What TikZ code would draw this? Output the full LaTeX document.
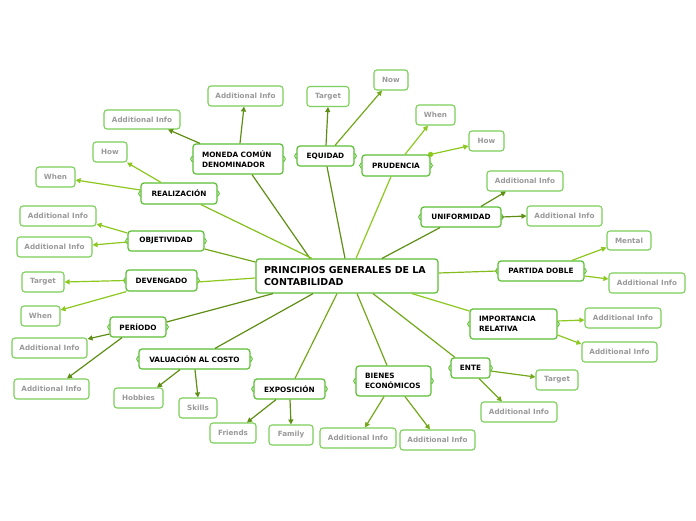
\documentclass[tikz,border=0pt]{standalone}
\usepackage{fontspec}
\setmainfont{DejaVu Sans}
\usetikzlibrary{arrows.meta}
\definecolor{dk}{HTML}{5E8E14}
\definecolor{md}{HTML}{72A81A}
\definecolor{lt}{HTML}{8CC81E}
\definecolor{bd}{HTML}{5CC035}
\definecolor{lbd}{HTML}{7CCF58}
\definecolor{gtx}{HTML}{9A9A9A}
\begin{document}
\begin{tikzpicture}[x=1pt,y=-1pt,
 mainbox/.style={draw=bd, fill=white, rounded corners=3pt, line width=1.2pt, inner sep=0pt, font=\fontsize{7.3}{10}\selectfont\bfseries, align=center},
 twoline/.style={align=left, inner xsep=9pt, text width=#1},
 leaf/.style={draw=lbd, fill=white, rounded corners=3pt, line width=1.1pt, inner sep=0pt, text=gtx, font=\fontsize{7.2}{9}\selectfont\bfseries, minimum height=20pt},
 con/.style={line width=1.2pt},
 arr/.style={line width=1.2pt, -{Triangle[length=5pt,width=5pt]}},
 brc/.style={line width=0.9pt, draw=bd}
]
\useasboundingbox[fill=white] (0,0) rectangle (696,520);

% center
\node[mainbox, font=\fontsize{9.5}{12}\selectfont\bfseries, twoline=166pt, inner xsep=8pt, minimum width=182pt, minimum height=34pt] (c) at (347,276) {PRINCIPIOS GENERALES DE LA\\CONTABILIDAD};

% main nodes
\node[mainbox, twoline=72pt, minimum width=90pt, minimum height=30pt] (mon) at (238,159) {MONEDA COMÚN\\DENOMINADOR};
\node[mainbox, minimum width=57pt, minimum height=20pt] (equ) at (325.5,156) {EQUIDAD};
\node[mainbox, minimum width=68pt, minimum height=21pt] (pru) at (396,165.5) {PRUDENCIA};
\node[mainbox, minimum width=76pt, minimum height=21pt] (rea) at (179,193.5) {REALIZACIÓN};
\node[mainbox, minimum width=80pt, minimum height=20pt] (uni) at (461,217) {UNIFORMIDAD};
\node[mainbox, minimum width=76pt, minimum height=20pt] (obj) at (166,241) {OBJETIVIDAD};
\node[mainbox, minimum width=71pt, minimum height=21pt] (dev) at (161.5,280.5) {DEVENGADO};
\node[mainbox, minimum width=86pt, minimum height=20pt] (par) at (541,271) {PARTIDA DOBLE};
\node[mainbox, twoline=69pt, minimum width=87pt, minimum height=30pt] (imp) at (513.5,324) {IMPORTANCIA\\RELATIVA};
\node[mainbox, minimum width=56pt, minimum height=20pt] (per) at (138,327) {PERÍODO};
\node[mainbox, minimum width=111pt, minimum height=20pt] (val) at (194.5,359) {VALUACIÓN AL COSTO};
\node[mainbox, minimum width=71pt, minimum height=20pt] (exp) at (289.5,389) {EXPOSICIÓN};
\node[mainbox, twoline=57pt, minimum width=75pt, minimum height=30pt] (bie) at (393.5,381) {BIENES\\ECONÓMICOS};
\node[mainbox, minimum width=39pt, minimum height=20pt] (ente) at (470.5,368) {ENTE};

% braces
\foreach \n in {mon,equ,pru,rea,uni,obj,dev,par,imp,per,val,exp,bie,ente}{
  \draw[brc] ([yshift=3pt]\n.west) -- ++(-1.8pt,-3pt) -- ++(1.8pt,-3pt);
  \draw[brc] ([yshift=3pt]\n.east) -- ++(1.8pt,-3pt) -- ++(-1.8pt,-3pt);
}

% leaves
\node[leaf, minimum width=75pt] (l1) at (245.5,96) {Additional Info};
\node[leaf, minimum width=76pt, minimum height=19pt] (l2) at (142,119.5) {Additional Info};
\node[leaf, minimum width=42pt] (l3) at (328,96.5) {Target};
\node[leaf, minimum width=34pt] (l4) at (391,80) {Now};
\node[leaf, minimum width=39pt] (l5) at (435.5,115) {When};
\node[leaf, minimum width=35pt] (l6) at (486.5,141) {How};
\node[leaf, minimum width=34pt] (l7) at (110,152) {How};
\node[leaf, minimum width=39pt] (l8) at (55.5,177) {When};
\node[leaf, minimum width=76pt] (l9) at (525,181) {Additional Info};
\node[leaf, minimum width=75pt] (l10) at (564.5,216) {Additional Info};
\node[leaf, minimum width=76pt] (l11) at (58,216) {Additional Info};
\node[leaf, minimum width=75pt] (l12) at (54.5,247) {Additional Info};
\node[leaf, minimum width=42pt] (l13) at (43,282) {Target};
\node[leaf, minimum width=39pt] (l14) at (40.5,316) {When};
\node[leaf, minimum width=44pt, minimum height=19pt] (l15) at (629,240.5) {Mental};
\node[leaf, minimum width=76pt] (l16) at (647,283) {Additional Info};
\node[leaf, minimum width=75pt] (l17) at (49.5,348) {Additional Info};
\node[leaf, minimum width=75pt] (l18) at (51.5,389) {Additional Info};
\node[leaf, minimum width=76pt] (l19) at (623,318) {Additional Info};
\node[leaf, minimum width=75pt] (l20) at (619.5,352) {Additional Info};
\node[leaf, minimum width=42pt] (l21) at (557,380) {Target};
\node[leaf, minimum width=76pt] (l22) at (519,412) {Additional Info};
\node[leaf, minimum width=49pt] (l23) at (138.5,398) {Hobbies};
\node[leaf, minimum width=38pt] (l24) at (198,408) {Skills};
\node[leaf, minimum width=46pt] (l25) at (233,433) {Friends};
\node[leaf, minimum width=44pt] (l26) at (291,435) {Family};
\node[leaf, minimum width=76pt] (l27) at (358,438) {Additional Info};
\node[leaf, minimum width=75pt] (l28) at (437.5,440) {Additional Info};

% center to main
\draw[con, dk] ([xshift=-37pt]c.north) -- ([xshift=14pt]mon.south);
\draw[con, dk] ([xshift=-2pt]c.north) -- ([xshift=1.5pt]equ.south);
\draw[con, lt] ([xshift=9pt]c.north) -- ([xshift=-5pt]pru.south);
\draw[con, lt!85!dk] ([xshift=-35pt]c.north) -- ([xshift=22pt]rea.south);
\draw[con, dk] ([xshift=35pt]c.north) -- ([xshift=-21pt]uni.south);
\draw[con, md] ([yshift=14pt]c.west) -- ([yshift=-8pt]obj.east);
\draw[con, lt] ([yshift=-2pt]c.west) -- ([yshift=-1.5pt]dev.east);
\draw[con, lt!80!dk] ([yshift=3pt]c.east) -- (par.west);
\draw[con, lt] ([xshift=65pt]c.south) -- ([yshift=13pt]imp.west);
\draw[con, md] ([xshift=26pt]c.south) -- ([xshift=-15.5pt]ente.north);
\draw[con, md] ([xshift=10pt]c.south) -- ([xshift=-6.5pt]bie.north);
\draw[con, md] ([xshift=-10pt]c.south) -- ([xshift=5.5pt]exp.north);
\draw[con, dk] ([xshift=-34pt]c.south) -- ([xshift=20.5pt]val.north);
\draw[con, dk] ([xshift=-74pt]c.south) -- ([yshift=5pt]per.east);

% main to leaves
\draw[arr, dk] ([xshift=2pt]mon.north) -- ([xshift=-1.5pt]l1.south);
\draw[arr, dk] ([xshift=-38pt]mon.north) -- ([xshift=26pt]l2.south);
\draw[arr, dk] ([xshift=0.5pt]equ.north) -- (l3.south);
\draw[arr, md] ([xshift=9.5pt]equ.north) -- ([xshift=-9pt]l4.south);
\draw[arr, lt] ([xshift=9pt]pru.north) -- ([xshift=-7.5pt]l5.south);
\draw[arr, lt] (pru.north east) -- ([yshift=-5pt]l6.west);
\fill[lt] (pru.north east) circle (2.6pt);
\draw[arr, lt] ([xshift=-18pt]rea.north) -- ([xshift=17pt]l7.south);
\draw[arr, lt] ([yshift=3.5pt]rea.west) -- ([yshift=-3pt]l8.east);
\draw[arr, dk] ([xshift=20pt]uni.north) -- ([xshift=-19pt]l9.south);
\draw[arr, dk] (uni.east) -- (l10.west);
\draw[arr, lt] ([yshift=8pt]obj.west) -- ([yshift=-8pt]l11.east);
\draw[arr, lt] ([yshift=-1pt]obj.west) -- ([yshift=2pt]l12.east);
\draw[arr, lt] (dev.west) -- (l13.east);
\draw[arr, lt] ([xshift=1pt]dev.south west) -- ([yshift=6pt]l14.east);
\draw[arr, lt] ([xshift=31pt]par.north) -- ([yshift=-7pt]l15.west);
\draw[arr, lt] ([yshift=-5pt]par.east) -- ([yshift=4pt]l16.west);
\draw[arr, lt] ([yshift=3pt]imp.east) -- ([yshift=-2pt]l19.west);
\draw[arr, lt] ([yshift=-11pt]imp.east) -- ([yshift=8pt]l20.west);
\draw[arr, md] ([yshift=-3pt]ente.east) -- ([yshift=3pt]l21.west);
\draw[arr, md] ([xshift=8.5pt]ente.south) -- ([xshift=-17pt]l22.north);
\draw[arr, dk] ([yshift=-7pt]per.west) -- ([yshift=9pt]l17.east);
\draw[arr, dk] ([xshift=-16pt]per.south) -- ([xshift=15.5pt]l18.north);
\draw[arr, dk] ([xshift=-14.5pt]val.south) -- ([xshift=18.5pt]l23.north);
\draw[arr, dk] ([xshift=0.5pt]val.south) -- (l24.north);
\draw[arr, dk] ([xshift=-13.5pt]exp.south) -- ([xshift=14pt]l25.north);
\draw[arr, dk] ([xshift=0.5pt]exp.south) -- (l26.north);
\draw[arr, md] ([xshift=-9.5pt]bie.south) -- ([xshift=7pt]l27.north);
\draw[arr, md] ([xshift=11.5pt]bie.south) -- ([xshift=-7.5pt]l28.north);
\end{tikzpicture}
\end{document}
